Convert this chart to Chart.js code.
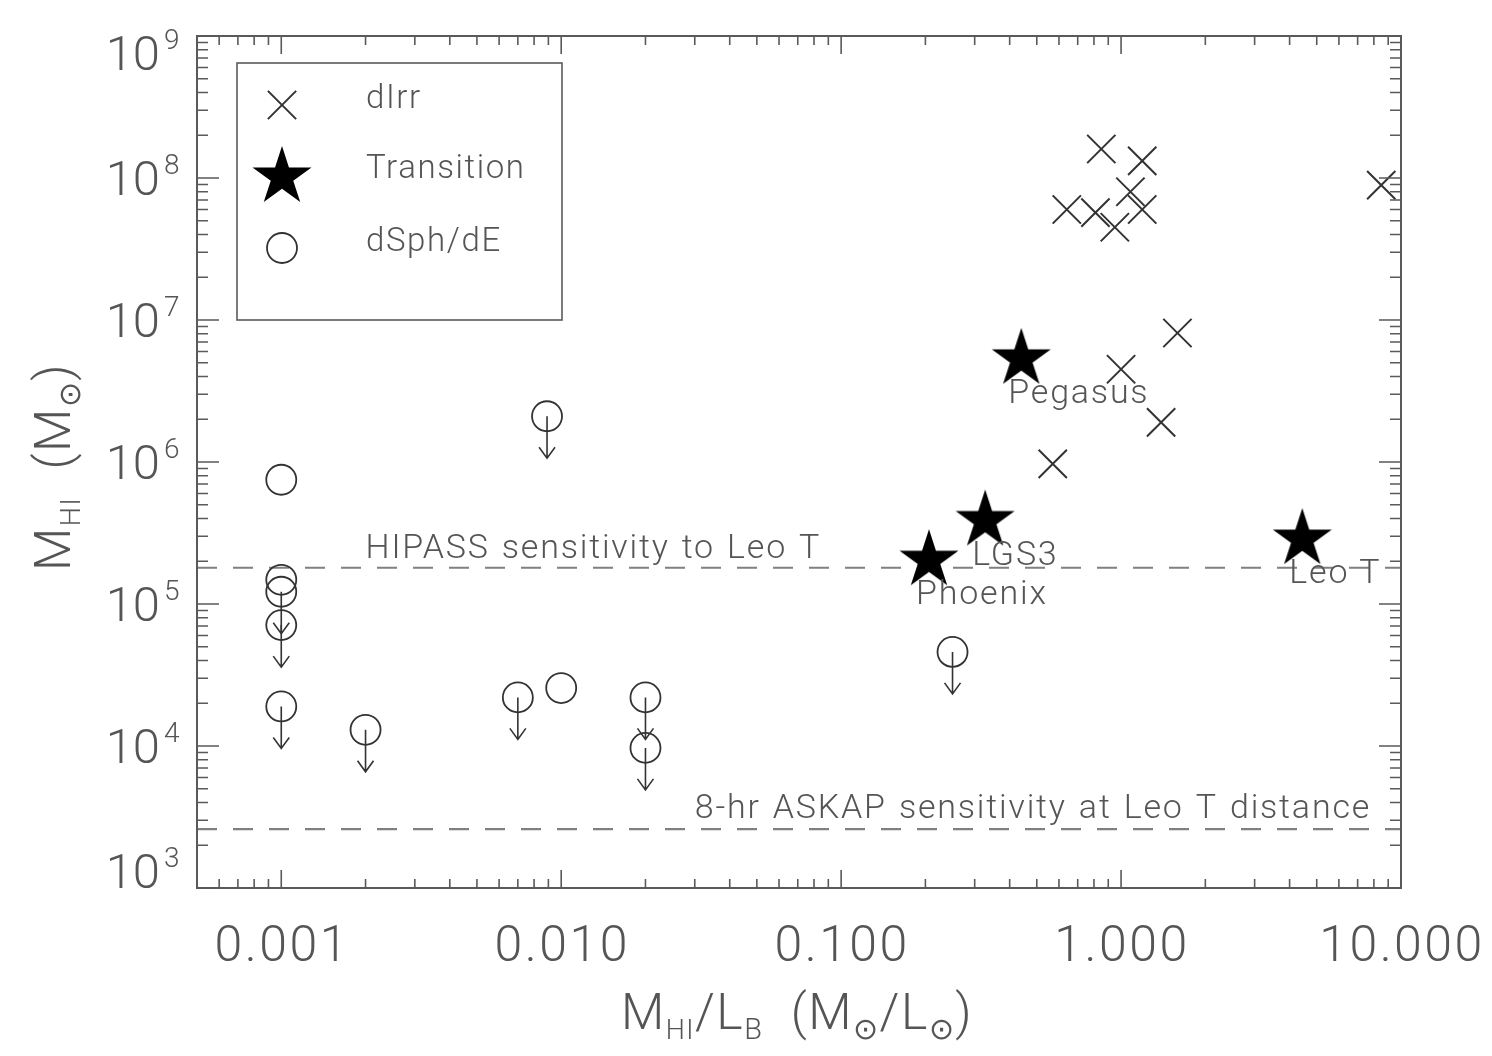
<!DOCTYPE html>
<html>
<head>
<meta charset="utf-8">
<title>HI mass vs M_HI/L_B</title>
<script src="https://cdn.jsdelivr.net/npm/chart.js@4.4.1/dist/chart.umd.min.js"></script>
<style>
  html, body { margin: 0; padding: 0; background: #fff; }
  #wrap { width: 1492px; height: 1056px; }
</style>
</head>
<body>
<div id="wrap"><canvas id="chart" width="1492" height="1056"></canvas></div>
<script>
// ---- data ----
const dirrX = [0.85, 1.19, 1.08, 1.19, 0.64, 0.81, 0.95, 8.5, 1.59, 1.00, 1.39, 0.57];
const dirrY = [1.6e8, 1.32e8, 8.0e7, 6.0e7, 6.0e7, 5.7e7, 4.5e7, 8.9e7, 8.1e6, 4.5e6, 1.9e6, 9.7e5];

const transNames = ['Pegasus', 'LGS3', 'Phoenix', 'Leo T'];
const transX = [0.44, 0.327, 0.206, 4.44];
const transY = [5.5e6, 4.0e5, 2.1e5, 2.96e5];

const dsphX = [0.001, 0.001, 0.001, 0.001, 0.001, 0.002, 0.007, 0.010, 0.020, 0.020, 0.0089, 0.25];
const dsphY = [7.5e5, 1.48e5, 1.22e5, 7.1e4, 1.9e4, 1.3e4, 2.2e4, 2.56e4, 2.2e4, 9.7e3, 2.1e6, 4.6e4];
const dsphUpper = [false, false, true, true, true, true, true, false, true, true, true, true];

const hipassLevel = 1.8e5;
const askapLevel = 2.6e3;
const hipassText = 'HIPASS sensitivity to Leo T';
const askapText = '8-hr ASKAP sensitivity at Leo T distance';
const hipassTextX = 0.002;
const askapTextX = 0.03;

const xRange = [0.0005, 10];
const yRange = [1e3, 1e9];
const xTickValues = [0.001, 0.01, 0.1, 1, 10];
const xTickLabels = ['0.001', '0.010', '0.100', '1.000', '10.000'];
const yTickExps = [3, 4, 5, 6, 7, 8, 9];

const legendNames = ['dIrr', 'Transition', 'dSph/dE'];

// ---- styling ----
const INK = '#333';
const AXIS = '#5a5a5a';
const TEXT = '#555';
const DASH = '#808080';
const FONT = 'Roboto, "Liberation Sans", sans-serif';

// filled five-point star as a point style
function makeStar(R) {
    const c = document.createElement('canvas');
    const s = Math.ceil(R * 2 + 4);
    c.width = s; c.height = s;
    const g = c.getContext('2d');
    const r = R * 0.382;
    g.beginPath();
    for (let i = 0; i < 10; i++) {
        const rad = (i % 2 === 0) ? R : r;
        const a = -Math.PI / 2 + i * Math.PI / 5;
        const px = s / 2 + rad * Math.cos(a);
        const py = s / 2 + 2 + rad * Math.sin(a);
        if (i === 0) g.moveTo(px, py); else g.lineTo(px, py);
    }
    g.closePath();
    g.fillStyle = '#000';
    g.fill();
    return c;
}
const starImg = makeStar(31);

// draws runs like [['M',44,0],['HI',24,10]] ; third value = baseline shift
function runsWidth(ctx, runs) {
    let w = 0;
    runs.forEach(([t, size]) => { ctx.font = `300 ${size}px ${FONT}`; w += ctx.measureText(t).width; });
    return w;
}
function drawRuns(ctx, runs, x, y) {
    let cx = x;
    runs.forEach(([t, size, dy]) => {
        ctx.font = `300 ${size}px ${FONT}`;
        ctx.fillText(t, cx, y + (dy || 0));
        cx += ctx.measureText(t).width;
    });
}

const framePlugin = {
    id: 'idlFrame',
    afterDatasetsDraw(chart) {
        const ctx = chart.ctx;
        const xs = chart.scales.x, ys = chart.scales.y;
        const a = chart.chartArea;
        ctx.save();

        // upper-limit arrows on dSph/dE points
        ctx.strokeStyle = INK;
        ctx.lineWidth = 1.6;
        dsphX.forEach((v, i) => {
            if (!dsphUpper[i]) return;
            const px = xs.getPixelForValue(v), py = ys.getPixelForValue(dsphY[i]);
            ctx.beginPath();
            ctx.moveTo(px, py);
            ctx.lineTo(px, py + 42);
            ctx.moveTo(px - 8, py + 31);
            ctx.lineTo(px, py + 42);
            ctx.lineTo(px + 8, py + 31);
            ctx.stroke();
        });

        // frame
        ctx.strokeStyle = AXIS;
        ctx.lineWidth = 2;
        ctx.strokeRect(a.left, a.top, a.right - a.left, a.bottom - a.top);

        // x ticks (bottom + top, pointing inward)
        ctx.lineWidth = 1.6;
        for (let d = Math.floor(Math.log10(xRange[0])); d <= Math.log10(xRange[1]); d++) {
            for (let m = 1; m <= 9; m++) {
                const v = m * Math.pow(10, d);
                if (v < xRange[0] * 0.999 || v > xRange[1] * 1.001) continue;
                const px = xs.getPixelForValue(v);
                const len = m === 1 ? 18 : 9;
                ctx.beginPath();
                ctx.moveTo(px, a.bottom); ctx.lineTo(px, a.bottom - len);
                ctx.moveTo(px, a.top); ctx.lineTo(px, a.top + len);
                ctx.stroke();
            }
        }
        // y ticks (left + right)
        for (let d = Math.log10(yRange[0]); d <= Math.log10(yRange[1]); d++) {
            for (let m = 1; m <= 9; m++) {
                const v = m * Math.pow(10, d);
                if (v > yRange[1] * 1.001) continue;
                const py = ys.getPixelForValue(v);
                const len = m === 1 ? 22 : 11;
                ctx.beginPath();
                ctx.moveTo(a.left, py); ctx.lineTo(a.left + len, py);
                ctx.moveTo(a.right, py); ctx.lineTo(a.right - len, py);
                ctx.stroke();
            }
        }

        // tick labels
        ctx.fillStyle = TEXT;
        ctx.textBaseline = 'alphabetic';
        ctx.textAlign = 'center';
        ctx.font = `300 50px ${FONT}`;
        ctx.letterSpacing = '2.5px';
        xTickValues.forEach((v, i) => {
            ctx.fillText(xTickLabels[i], xs.getPixelForValue(v) + 1, 961);
        });
        ctx.letterSpacing = '0px';
        yTickExps.forEach(e => {
            let py = ys.getPixelForValue(Math.pow(10, e));
            py = Math.min(Math.max(py, a.top + 17), a.bottom - 17);
            ctx.textAlign = 'right';
            ctx.font = `300 49px ${FONT}`;
            ctx.fillText('10', 160, py + 17);
            ctx.textAlign = 'left';
            ctx.font = `300 28px ${FONT}`;
            ctx.fillText(String(e), 164, py - 4);
        });

        // axis titles
        ctx.textAlign = 'left';
        ctx.letterSpacing = '1.5px';
        const xt = [['M', 50, 0], ['HI', 27, 10], ['/L', 50, 0], ['B', 29, 10],
                    ['  (M', 50, 0], ['\u2299', 30, 10], ['/L', 50, 0], ['\u2299', 30, 10], [')', 50, 0]];
        const xw = runsWidth(ctx, xt);
        drawRuns(ctx, xt, 797 - xw / 2, 1029);

        const yt = [['M', 50, 0], ['HI', 27, 10], ['  (M', 50, 0], ['\u2299', 30, 10], [')', 50, 0]];
        const yw = runsWidth(ctx, yt);
        ctx.save();
        ctx.translate(70, 467);
        ctx.rotate(-Math.PI / 2);
        drawRuns(ctx, yt, -yw / 2, 0);
        ctx.restore();

        // sensitivity labels
        ctx.font = `300 34px ${FONT}`;
        ctx.letterSpacing = '1.8px';
        ctx.wordSpacing = '2px';
        ctx.fillText(hipassText, xs.getPixelForValue(hipassTextX), ys.getPixelForValue(hipassLevel) - 10);
        ctx.fillText(askapText, xs.getPixelForValue(askapTextX), ys.getPixelForValue(askapLevel) - 11);
        ctx.wordSpacing = '0px';

        // transition-object names
        transNames.forEach((n, i) => {
            ctx.fillText(n, xs.getPixelForValue(transX[i]) - 13, ys.getPixelForValue(transY[i]) + 46);
        });
        ctx.letterSpacing = '0px';

        // legend box
        const L = { x: 237, y: 63, w: 325, h: 257 };
        ctx.strokeStyle = AXIS;
        ctx.lineWidth = 1.6;
        ctx.strokeRect(L.x, L.y, L.w, L.h);
        const rows = [105, 175, 248];
        const mx = 282;
        ctx.strokeStyle = INK;
        ctx.lineWidth = 2;
        Chart.helpers.drawPoint(ctx, { pointStyle: 'crossRot', radius: 20, borderWidth: 2 }, mx, rows[0]);
        ctx.drawImage(starImg, mx - starImg.width / 2, rows[1] - starImg.height / 2);
        ctx.beginPath();
        ctx.arc(mx, rows[2], 15, 0, Math.PI * 2);
        ctx.lineWidth = 1.8;
        ctx.stroke();
        ctx.fillStyle = TEXT;
        ctx.font = `300 33px ${FONT}`;
        ctx.letterSpacing = '1.6px';
        legendNames.forEach((n, i) => ctx.fillText(n, 366, rows[i] + 3));
        ctx.letterSpacing = '0px';

        ctx.restore();
    }
};

new Chart(document.getElementById('chart'), {
    type: 'scatter',
    data: {
        datasets: [
            {
                label: 'dIrr',
                data: dirrX.map((x, i) => ({ x, y: dirrY[i] })),
                pointStyle: 'crossRot',
                pointRadius: 20,
                borderColor: INK,
                borderWidth: 2,
                backgroundColor: 'transparent'
            },
            {
                label: 'Transition',
                data: transX.map((x, i) => ({ x, y: transY[i] })),
                pointStyle: starImg,
                pointRadius: 31
            },
            {
                label: 'dSph/dE',
                data: dsphX.map((x, i) => ({ x, y: dsphY[i] })),
                pointStyle: 'circle',
                pointRadius: 15,
                borderColor: INK,
                borderWidth: 1.8,
                backgroundColor: 'transparent'
            },
            {
                type: 'line',
                label: 'HIPASS',
                data: xRange.map(x => ({ x, y: hipassLevel })),
                borderColor: DASH,
                borderWidth: 2.2,
                borderDash: [20, 16],
                pointRadius: 0
            },
            {
                type: 'line',
                label: 'ASKAP',
                data: xRange.map(x => ({ x, y: askapLevel })),
                borderColor: DASH,
                borderWidth: 2.2,
                borderDash: [20, 16],
                pointRadius: 0
            }
        ]
    },
    options: {
        responsive: false,
        animation: false,
        devicePixelRatio: 1,
        layout: { padding: { top: 36, right: 91, left: 0, bottom: 0 } },
        plugins: { legend: { display: false }, tooltip: { enabled: false } },
        scales: {
            x: {
                type: 'logarithmic',
                min: xRange[0],
                max: xRange[1],
                grid: { display: false },
                border: { display: false },
                ticks: { display: false },
                afterFit(s) { s.height = 168; }
            },
            y: {
                type: 'logarithmic',
                min: yRange[0],
                max: yRange[1],
                grid: { display: false },
                border: { display: false },
                ticks: { display: false },
                afterFit(s) { s.width = 197; }
            }
        }
    },
    plugins: [framePlugin]
});
</script>
</body>
</html>
